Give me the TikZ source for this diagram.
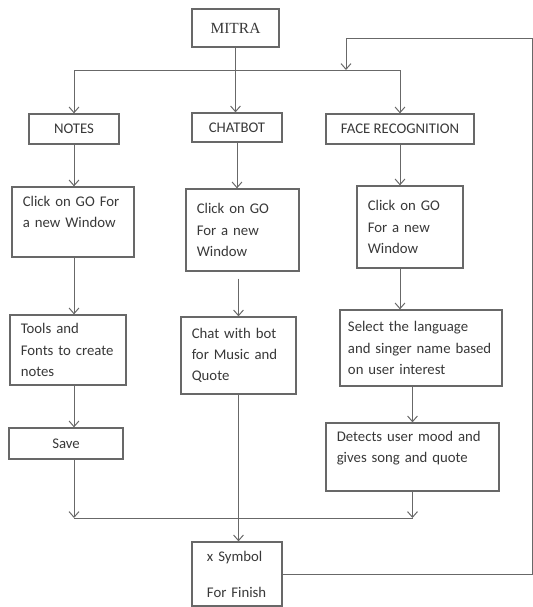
\documentclass[tikz,border=0pt]{standalone}
\usepackage{fontspec}
\setmainfont{Carlito}
\newfontfamily\titlefont{Liberation Serif}
\usetikzlibrary{arrows.meta}
\definecolor{linegray}{HTML}{686868}
\definecolor{textgray}{HTML}{383838}
\begin{document}
\begin{tikzpicture}[x=0.025cm, y=-0.025cm,
  box/.style={draw=linegray, line width=0.9pt, text=textgray, font=\fontsize{10.5}{15}\selectfont, inner sep=0pt},
  tbox/.style={box, align=left, inner xsep=0.27cm},
  flow/.style={draw=linegray, line width=0.7pt},
  arr/.style={flow, -{Straight Barb[length=4pt,width=7pt]}}]
  \useasboundingbox (0,0) rectangle (533,607);
  % top level
  \node[box, font=\titlefont\fontsize{11}{13}\selectfont, minimum width=2.175cm, minimum height=0.95cm] (mitra) at (235.5,28) {MITRA};
  \node[box, minimum width=2.25cm, minimum height=0.75cm] (notes) at (74,129) {NOTES};
  \node[box, minimum width=2.25cm, minimum height=0.725cm] (chatbot) at (237,127.5) {CHATBOT};
  \node[box, minimum width=3.7cm, minimum height=0.75cm] (face) at (400,129) {FACE RECOGNITION};
  % windows
  \node[tbox, text width=2.51cm, minimum height=1.75cm] (notesgo) at (73,222) {Click on GO For\\a new Window\\ \mbox{}};
  \node[tbox, text width=2.285cm, minimum height=2.05cm] (chatgo) at (242.5,230) {Click on GO\\For a new\\Window};
  \node[tbox, text width=2.11cm, minimum height=2.05cm] (facego) at (410,227) {Click on GO\\For a new\\Window};
  % actions
  \node[tbox, text width=2.36cm, minimum height=1.75cm] (tools) at (68,350) {Tools and\\Fonts to create\\notes};
  \node[tbox, text width=2.335cm, minimum height=1.925cm] (chat) at (238.5,355.5) {Chat with bot\\for Music and\\Quote};
  \node[tbox, inner xsep=0.2cm, text width=3.65cm, minimum height=1.9cm] (select) at (421,348) {Select the language\\and singer name based\\on user interest};
  \node[box, minimum width=2.85cm, minimum height=0.775cm] (save) at (66,443.5) {Save};
  \node[tbox, text width=3.785cm, minimum height=1.7cm] (detect) at (412.5,457) {Detects user mood and\\gives song and quote\\ \mbox{}};
  \node[tbox, inner xsep=0.375cm, text width=1.5cm, minimum height=1.6cm] (finish) at (237,574) {x Symbol\\[10.5pt]For Finish};
  \coordinate (topbus) at (346,70);
  \coordinate (join) at (237,518);
  \coordinate (corner) at (532,38);
  % connectors
  \draw[arr] (mitra.south) -- (mitra.south |- chatbot.north);
  \draw[flow] (notes.north |- topbus) -- (face.north |- topbus);
  \draw[arr] (notes.north |- topbus) -- (notes.north);
  \draw[arr] (face.north |- topbus) -- (face.north);
  \draw[arr] (notes.south) -- (notes.south |- notesgo.north);
  \draw[arr] (chatbot.south) -- (chatbot.south |- chatgo.north);
  \draw[arr] (face.south) -- (face.south |- facego.north);
  \draw[arr] (notes.south |- notesgo.south) -- (notes.south |- tools.north);
  \draw[arr] (chat.north |- chatgo.south) ++(0,7) -- (chat.north);
  \draw[arr] (face.south |- facego.south) -- (face.south |- select.north);
  \draw[arr] (notes.south |- tools.south) -- (notes.south |- save.north);
  \draw[arr] (detect.north |- select.south) -- (detect.north);
  \draw[arr] (notes.south |- save.south) -- (notes.south |- join);
  \draw[arr] (detect.south) -- (detect.south |- join);
  \draw[flow] (notes.south |- join) -- (detect.south |- join);
  \draw[arr] (chat.south) -- (chat.south |- finish.north);
  \draw[arr] (finish.east) -| (corner) -| (topbus);
\end{tikzpicture}
\end{document}
